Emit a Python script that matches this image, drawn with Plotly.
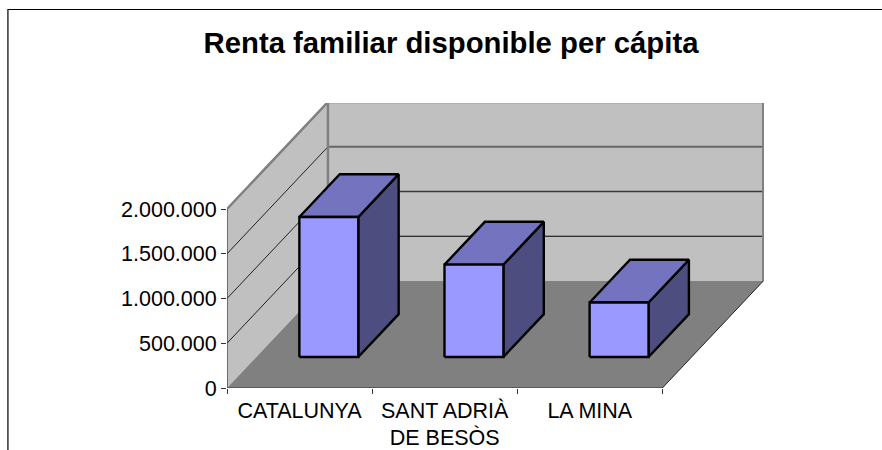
import plotly.graph_objects as go

title = "Renta familiar disponible per cápita"
categories = ["CATALUNYA", "SANT ADRIÀ<br>DE BESÒS", "LA MINA"]
values = [1564000, 1032000, 608000]
y_ticks = [0, 500000, 1000000, 1500000, 2000000]
y_labels = ["0", "500.000", "1.000.000", "1.500.000", "2.000.000"]

W, H = 882, 450
X0, X1, Y0, Y1 = 226.7, 764.0, 388.0, 103.0      # plot box in pixels
CAT_PX = 145.2
VAL_PX = 179.0 / 2000000
DEPTH_X = 101.0 / CAT_PX                          # oblique depth, in category units
DEPTH_Y = 107.0 / VAL_PX                          # oblique depth, in value units
BAR_W = 0.406
D_FRONT, D_BACK = 0.29, 0.69
NCAT = len(categories)
VMAX = y_ticks[-1]

def proj(x, v, d):
    return x + d * DEPTH_X, v + d * DEPTH_Y

def poly(fig, pts, fill=None, line=None, width=1):
    xs, ys = zip(*[proj(*p) for p in pts])
    fig.add_trace(go.Scatter(
        x=xs, y=ys, mode="lines" if line else "none",
        fill="toself" if fill else None, fillcolor=fill,
        line=dict(color=line or "rgba(0,0,0,0)", width=width),
        hoverinfo="skip", showlegend=False, cliponaxis=False))

fig = go.Figure()

# walls and floor
poly(fig, [(0,0,1),(NCAT,0,1),(NCAT,VMAX,1),(0,VMAX,1),(0,0,1)], fill="#C0C0C0")
poly(fig, [(0,0,0),(0,0,1),(0,VMAX,1),(0,VMAX,0),(0,0,0)], fill="#C0C0C0")
poly(fig, [(0,0,0),(NCAT,0,0),(NCAT,0,1),(0,0,1),(0,0,0)], fill="#808080")

# gridlines, fading with height like the resampled original
grid_style = {500000: ("#000000", 1), 1000000: ("#3A3A3A", 1.5), 1500000: ("#666666", 2)}
for v in y_ticks[1:-1]:
    c, w = grid_style[v]
    poly(fig, [(0,v,0),(0,v,1)], line="#222222", width=1)
    poly(fig, [(0,v,1),(NCAT,v,1)], line=c, width=w)

# wall edges
poly(fig, [(0,VMAX,0),(0,VMAX,1),(NCAT,VMAX,1),(NCAT,0,1)], line="#808080", width=2.5)
poly(fig, [(0,0,1),(0,VMAX,1)], line="#808080", width=2.5)
poly(fig, [(NCAT,0,0),(NCAT,0,1)], line="#222222", width=1)
poly(fig, [(0,0,0),(0,VMAX,0)], line="#333333", width=1.2)
poly(fig, [(0,0,0),(NCAT,0,0)], line="#333333", width=1.2)

# bars
for i, v in enumerate(values):
    a, b = i + 0.5 - BAR_W / 2, i + 0.5 + BAR_W / 2
    poly(fig, [(b,0,D_FRONT),(b,0,D_BACK),(b,v,D_BACK),(b,v,D_FRONT),(b,0,D_FRONT)],
         fill="#4D4D80", line="#000000", width=2.4)
    poly(fig, [(a,v,D_FRONT),(b,v,D_FRONT),(b,v,D_BACK),(a,v,D_BACK),(a,v,D_FRONT)],
         fill="#7373BF", line="#000000", width=2.4)
    poly(fig, [(a,0,D_FRONT),(b,0,D_FRONT),(b,v,D_FRONT),(a,v,D_FRONT),(a,0,D_FRONT)],
         fill="#9999FF", line="#000000", width=2.4)

font = dict(family="Liberation Sans, Arial, sans-serif", color="#000000", size=21.5)

fig.update_layout(
    width=W, height=H, autosize=False,
    paper_bgcolor="#FFFFFF", plot_bgcolor="rgba(0,0,0,0)",
    margin=dict(l=X0, r=W - X1, t=Y1, b=H - Y0, autoexpand=False, pad=0),
    font=font, showlegend=False,
    title=dict(text=f"<b>{title}</b>", font=dict(size=29.3, color="#000000", family=font["family"]),
               xref="container", yref="container", x=451 / W, y=1 - 43 / H,
               xanchor="center", yanchor="middle"),
    xaxis=dict(range=[0, (X1 - X0) / CAT_PX], tickmode="array",
               tickvals=[i + 0.5 for i in range(NCAT)], ticktext=categories,
               ticks="", showgrid=False, zeroline=False, showline=False, tickangle=0,
               ticklabelstandoff=7,
               minor=dict(tickmode="array", tickvals=list(range(NCAT + 1)), ticks="outside",
                          ticklen=5, tickwidth=1, tickcolor="#333333", showgrid=False)),
    yaxis=dict(range=[0, (Y0 - Y1) / VAL_PX], tickmode="array",
               tickvals=y_ticks, ticktext=y_labels,
               ticks="outside", ticklen=5, tickwidth=1, tickcolor="#333333",
               showgrid=False, zeroline=False, showline=False),
    shapes=[dict(type="path", xref="paper", yref="paper",
                 path=f"M {(7.5 - X0) / (X1 - X0)} {(Y0 - 460) / (Y0 - Y1)} "
                      f"L {(7.5 - X0) / (X1 - X0)} {(Y0 - 9.5) / (Y0 - Y1)} "
                      f"L {(890 - X0) / (X1 - X0)} {(Y0 - 9.5) / (Y0 - Y1)}",
                 line=dict(color="#000000", width=1.2))],
)

fig.write_html("out.html", config=dict(displayModeBar=False),
               post_script="document.body.style.margin='0';document.body.style.overflow='hidden';")
